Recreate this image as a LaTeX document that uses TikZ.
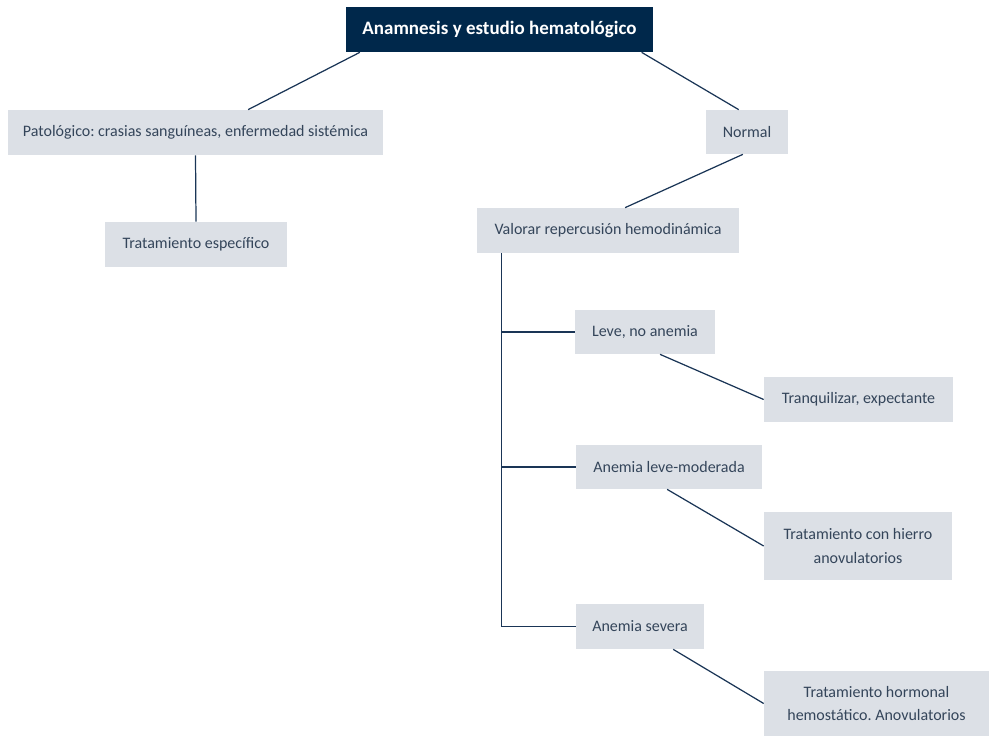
\documentclass[tikz,border=0pt]{standalone}
\usepackage{fontspec}
\setmainfont{Carlito}
\frenchspacing
\usetikzlibrary{calc}
\definecolor{navy}{HTML}{00284B}
\definecolor{boxfill}{HTML}{DCE0E6}
\definecolor{txt}{HTML}{34455A}
\definecolor{linec}{HTML}{1A3556}
\begin{document}
\begin{tikzpicture}[x=0.02cm,y=-0.02cm,
  box/.style={fill=boxfill, text=txt, inner sep=0pt, align=center, font=\fontsize{9.1}{13.6}\selectfont},
  topbox/.style={fill=navy, text=white, inner sep=0pt, align=center, font=\bfseries\fontsize{10.8}{13}\selectfont},
  conn/.style={draw=linec, line width=0.7pt}]
\useasboundingbox (0,0) rectangle (990,737);
\node[topbox, minimum width=6.14cm, minimum height=0.9cm] (top) at (499.5,29.5) {Anamnesis y estudio hematológico};
\node[box, minimum width=7.5cm, minimum height=0.9cm] (pat) at (195.5,132.5) {Patológico: crasias sanguíneas, enfermedad sistémica};
\node[box, minimum width=3.64cm, minimum height=0.9cm] (trat) at (196,244.5) {Tratamiento específico};
\node[box, minimum width=1.64cm, minimum height=0.88cm] (normal) at (747,132) {Normal};
\node[box, minimum width=5.24cm, minimum height=0.9cm] (val) at (608,230.5) {Valorar repercusión hemodinámica};
\node[box, minimum width=2.8cm, minimum height=0.88cm] (leve) at (645,332) {Leve, no anemia};
\node[box, minimum width=3.78cm, minimum height=0.9cm] (tranq) at (858.5,399.5) {Tranquilizar, expectante};
\node[box, minimum width=3.72cm, minimum height=0.88cm] (alm) at (669,467) {Anemia leve-moderada};
\node[box, minimum width=3.76cm, minimum height=1.36cm] (hierro) at (858,546) {Tratamiento con hierro\\anovulatorios};
\node[box, minimum width=2.56cm, minimum height=0.9cm] (sev) at (640,626.5) {Anemia severa};
\node[box, minimum width=4.5cm, minimum height=1.3cm] (horm) at (876.5,703.5) {Tratamiento hormonal\\hemostático. Anovulatorios};
% connectors
\draw[conn] ($(top.south west)!0.046!(top.south east)$) -- ($(pat.north west)!0.64!(pat.north east)$);
\draw[conn] ($(top.south west)!0.962!(top.south east)$) -- ($(normal.north west)!0.4!(normal.north east)$);
\draw[conn] ($(normal.south west)!0.45!(normal.south east)$) -- ($(val.north west)!0.565!(val.north east)$);
\draw[conn] (pat.south) -- (trat.north);
\coordinate (trunk) at ($(val.south west)+(25,0)$);
\draw[conn] (trunk) |- (sev.west);
\draw[conn] (trunk |- leve.west) -- (leve.west);
\draw[conn] (trunk |- alm.west) -- (alm.west);
\draw[conn] ($(leve.south west)!0.607!(leve.south east)$) -- (tranq.west);
\draw[conn] ($(alm.south west)!0.49!(alm.south east)$) -- (hierro.west);
\draw[conn] ($(sev.south west)!0.758!(sev.south east)$) -- (horm.west);
\end{tikzpicture}
\end{document}
